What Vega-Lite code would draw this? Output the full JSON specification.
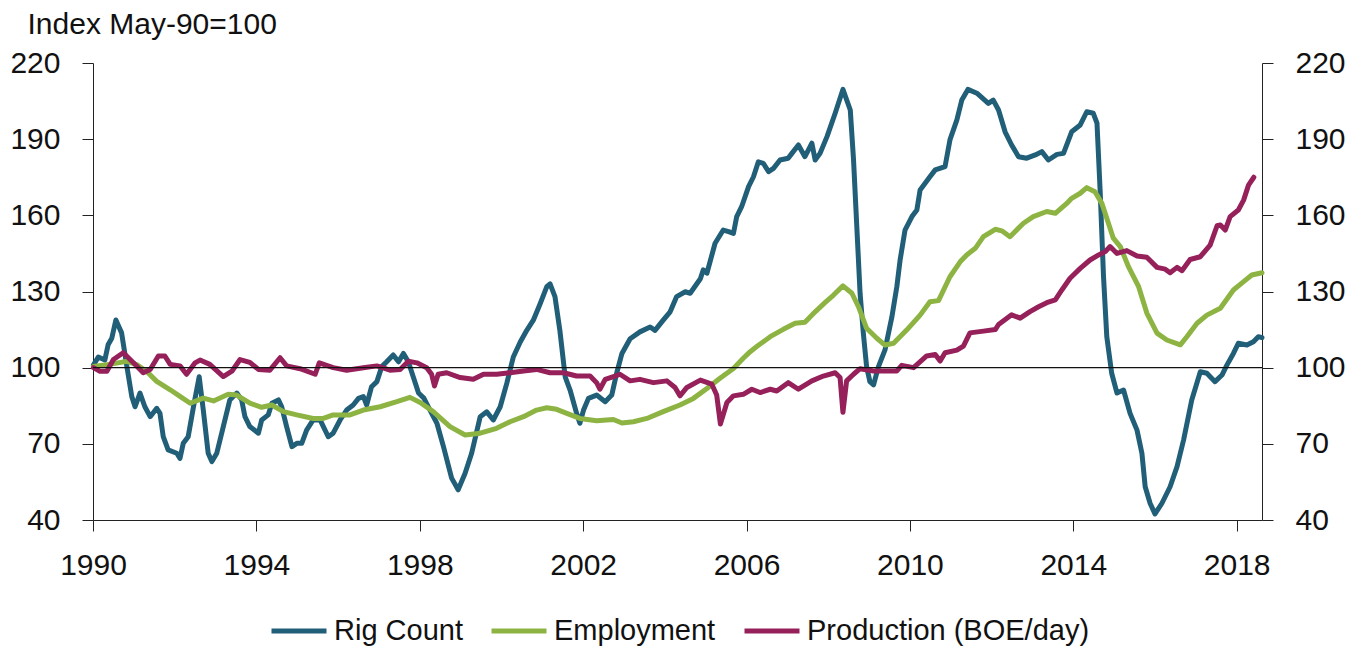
{
  "$schema": "https://vega.github.io/schema/vega-lite/v6.json",
  "autosize": {"type": "none"},
  "width": 1169,
  "height": 457,
  "padding": {"left": 93, "top": 63, "right": 95, "bottom": 129},
  "background": "white",
  "config": {
    "view": {"stroke": null},
    "font": "Liberation Sans",
    "axis": {
      "labelFont": "Liberation Sans",
      "labelFontSize": 30,
      "labelColor": "#111",
      "domainColor": "#222",
      "tickColor": "#222",
      "tickSize": 11,
      "grid": false
    },
    "legend": {
      "labelFont": "Liberation Sans",
      "labelFontSize": 29,
      "labelColor": "#111",
      "labelLimit": 0
    }
  },
  "datasets": {
    "rig": [
      {"year":1990.01,"value":101},{"year":1990.13,"value":104.2},{"year":1990.29,"value":103},{"year":1990.37,"value":109},{"year":1990.46,"value":111.6},{"year":1990.56,"value":118.8},{"year":1990.70,"value":113.7},{"year":1990.83,"value":100.4},{"year":1990.95,"value":88.6},{"year":1991.03,"value":84.6},{"year":1991.15,"value":90},{"year":1991.27,"value":84.6},{"year":1991.40,"value":80.7},{"year":1991.56,"value":84},{"year":1991.64,"value":82},{"year":1991.72,"value":72.8},{"year":1991.84,"value":67.6},{"year":1992.05,"value":66.3},{"year":1992.13,"value":64.3},{"year":1992.21,"value":70.2},{"year":1992.33,"value":72.8},{"year":1992.46,"value":84.6},{"year":1992.60,"value":96.4},{"year":1992.70,"value":83.3},{"year":1992.82,"value":66.3},{"year":1992.91,"value":63},{"year":1993.03,"value":66.3},{"year":1993.19,"value":76.8},{"year":1993.35,"value":87.3},{"year":1993.52,"value":90},{"year":1993.64,"value":87.3},{"year":1993.72,"value":80.7},{"year":1993.84,"value":76.8},{"year":1994.05,"value":74.2},{"year":1994.13,"value":79.4},{"year":1994.29,"value":81.4},{"year":1994.38,"value":86},{"year":1994.54,"value":87.3},{"year":1994.62,"value":84.6},{"year":1994.74,"value":76.8},{"year":1994.87,"value":68.9},{"year":1994.99,"value":70.2},{"year":1995.11,"value":70.2},{"year":1995.23,"value":75.4},{"year":1995.39,"value":79.4},{"year":1995.56,"value":79.4},{"year":1995.64,"value":76.8},{"year":1995.76,"value":72.8},{"year":1995.88,"value":74.2},{"year":1996.05,"value":79.4},{"year":1996.21,"value":83.3},{"year":1996.37,"value":85.3},{"year":1996.50,"value":87.9},{"year":1996.62,"value":88.6},{"year":1996.70,"value":85.3},{"year":1996.82,"value":92.5},{"year":1996.95,"value":94.5},{"year":1997.07,"value":100.4},{"year":1997.19,"value":102.3},{"year":1997.35,"value":105},{"year":1997.48,"value":102.3},{"year":1997.60,"value":105.6},{"year":1997.72,"value":102.3},{"year":1997.84,"value":96.4},{"year":1997.97,"value":90},{"year":1998.10,"value":88},{"year":1998.25,"value":83.3},{"year":1998.42,"value":78.1},{"year":1998.58,"value":68.9},{"year":1998.78,"value":56.5},{"year":1998.94,"value":51.9},{"year":1999.11,"value":58.4},{"year":1999.27,"value":66.3},{"year":1999.48,"value":80.7},{"year":1999.64,"value":82.6},{"year":1999.80,"value":79.4},{"year":1999.97,"value":84.6},{"year":2000.13,"value":93.8},{"year":2000.29,"value":104.2},{"year":2000.46,"value":110.1},{"year":2000.62,"value":114.7},{"year":2000.78,"value":118.7},{"year":2000.95,"value":125.3},{"year":2001.11,"value":131.9},{"year":2001.19,"value":133},{"year":2001.31,"value":128},{"year":2001.43,"value":114.7},{"year":2001.56,"value":96.4},{"year":2001.68,"value":91.2},{"year":2001.84,"value":82},{"year":2001.92,"value":78.1},{"year":2002.01,"value":83.3},{"year":2002.13,"value":87.9},{"year":2002.33,"value":89.2},{"year":2002.54,"value":86.6},{"year":2002.70,"value":89.2},{"year":2002.82,"value":97.8},{"year":2002.95,"value":105.6},{"year":2003.15,"value":111.4},{"year":2003.39,"value":114.1},{"year":2003.64,"value":116},{"year":2003.76,"value":114.7},{"year":2003.96,"value":118.7},{"year":2004.13,"value":122},{"year":2004.29,"value":128},{"year":2004.50,"value":129.9},{"year":2004.62,"value":129.3},{"year":2004.87,"value":135},{"year":2004.94,"value":138.5},{"year":2005.03,"value":137.2},{"year":2005.23,"value":149},{"year":2005.43,"value":154.2},{"year":2005.56,"value":153.6},{"year":2005.68,"value":152.9},{"year":2005.76,"value":159.5},{"year":2005.88,"value":163.4},{"year":2006.05,"value":171.3},{"year":2006.17,"value":175.2},{"year":2006.29,"value":181.1},{"year":2006.41,"value":180.5},{"year":2006.54,"value":177.2},{"year":2006.66,"value":178.5},{"year":2006.82,"value":181.8},{"year":2007.02,"value":182.5},{"year":2007.11,"value":184.4},{"year":2007.27,"value":187.7},{"year":2007.43,"value":183.1},{"year":2007.60,"value":188.4},{"year":2007.68,"value":181.8},{"year":2007.80,"value":184.4},{"year":2007.97,"value":191},{"year":2008.17,"value":200.2},{"year":2008.36,"value":209.6},{"year":2008.54,"value":201.5},{"year":2008.62,"value":181.8},{"year":2008.70,"value":155.5},{"year":2008.78,"value":129.3},{"year":2008.86,"value":113.5},{"year":2008.94,"value":100.4},{"year":2009.02,"value":94.5},{"year":2009.11,"value":93.2},{"year":2009.23,"value":100.4},{"year":2009.39,"value":107},{"year":2009.56,"value":120.1},{"year":2009.68,"value":131.9},{"year":2009.76,"value":142.4},{"year":2009.88,"value":154.2},{"year":2010.05,"value":159.5},{"year":2010.17,"value":162.1},{"year":2010.25,"value":170},{"year":2010.49,"value":175.2},{"year":2010.62,"value":177.9},{"year":2010.86,"value":179.2},{"year":2010.98,"value":189.7},{"year":2011.15,"value":197.6},{"year":2011.27,"value":205.4},{"year":2011.42,"value":209.6},{"year":2011.64,"value":208.1},{"year":2011.92,"value":204.1},{"year":2012.04,"value":205.4},{"year":2012.17,"value":201.5},{"year":2012.33,"value":192.9},{"year":2012.49,"value":187.7},{"year":2012.66,"value":183.1},{"year":2012.86,"value":182.5},{"year":2013.07,"value":183.8},{"year":2013.23,"value":185.1},{"year":2013.39,"value":181.8},{"year":2013.60,"value":184},{"year":2013.76,"value":184.4},{"year":2013.96,"value":192.9},{"year":2014.17,"value":195.6},{"year":2014.33,"value":200.8},{"year":2014.49,"value":200.2},{"year":2014.58,"value":196.3},{"year":2014.66,"value":168.7},{"year":2014.74,"value":135.8},{"year":2014.82,"value":112.2},{"year":2014.94,"value":97.8},{"year":2015.07,"value":90},{"year":2015.23,"value":91.2},{"year":2015.39,"value":82},{"year":2015.56,"value":75.4},{"year":2015.68,"value":66.3},{"year":2015.76,"value":53.1},{"year":2015.88,"value":46.6},{"year":2016.00,"value":42.4},{"year":2016.17,"value":46.6},{"year":2016.37,"value":53.1},{"year":2016.54,"value":61},{"year":2016.70,"value":71.5},{"year":2016.90,"value":87.3},{"year":2017.11,"value":98.4},{"year":2017.27,"value":97.8},{"year":2017.47,"value":94.5},{"year":2017.64,"value":97.1},{"year":2017.76,"value":101},{"year":2017.92,"value":105.6},{"year":2018.04,"value":109.6},{"year":2018.25,"value":108.9},{"year":2018.41,"value":110.2},{"year":2018.53,"value":112.2},{"year":2018.62,"value":111.8}
    ],
    "emp": [
      {"year":1990.01,"value":100.5},{"year":1990.34,"value":101.2},{"year":1990.58,"value":101.8},{"year":1990.83,"value":102.5},{"year":1991.07,"value":101.2},{"year":1991.31,"value":98.6},{"year":1991.56,"value":94.6},{"year":1991.89,"value":91.3},{"year":1992.13,"value":88.7},{"year":1992.38,"value":86},{"year":1992.70,"value":88},{"year":1992.95,"value":86.9},{"year":1993.31,"value":89.5},{"year":1993.52,"value":89.2},{"year":1993.84,"value":86},{"year":1994.13,"value":84.4},{"year":1994.38,"value":85.3},{"year":1994.66,"value":82.7},{"year":1994.99,"value":81.4},{"year":1995.39,"value":80},{"year":1995.64,"value":80},{"year":1995.88,"value":81.4},{"year":1996.29,"value":81.4},{"year":1996.62,"value":83.3},{"year":1997.03,"value":84.6},{"year":1997.44,"value":86.6},{"year":1997.76,"value":88.3},{"year":1998.01,"value":86.3},{"year":1998.33,"value":82.7},{"year":1998.74,"value":76.8},{"year":1999.11,"value":73.5},{"year":1999.48,"value":74.2},{"year":1999.88,"value":76.1},{"year":2000.21,"value":78.7},{"year":2000.54,"value":80.7},{"year":2000.86,"value":83.3},{"year":2001.11,"value":84.2},{"year":2001.35,"value":83.6},{"year":2001.60,"value":82},{"year":2001.92,"value":80},{"year":2002.33,"value":79.1},{"year":2002.74,"value":79.6},{"year":2002.95,"value":78.2},{"year":2003.23,"value":78.7},{"year":2003.56,"value":80},{"year":2003.96,"value":82.7},{"year":2004.37,"value":85.3},{"year":2004.70,"value":87.9},{"year":2005.03,"value":91.8},{"year":2005.35,"value":95.8},{"year":2005.68,"value":99.7},{"year":2005.92,"value":103.7},{"year":2006.09,"value":106.3},{"year":2006.25,"value":108.3},{"year":2006.58,"value":112.2},{"year":2006.90,"value":115.1},{"year":2007.19,"value":117.5},{"year":2007.43,"value":117.9},{"year":2007.68,"value":122},{"year":2007.92,"value":125.6},{"year":2008.13,"value":128.6},{"year":2008.36,"value":132.2},{"year":2008.58,"value":129.3},{"year":2008.74,"value":124},{"year":2008.94,"value":115.5},{"year":2009.19,"value":111.6},{"year":2009.39,"value":108.9},{"year":2009.60,"value":109.6},{"year":2009.92,"value":114.8},{"year":2010.25,"value":120.7},{"year":2010.49,"value":126},{"year":2010.70,"value":126.4},{"year":2010.98,"value":135.8},{"year":2011.23,"value":141.7},{"year":2011.39,"value":144.4},{"year":2011.60,"value":147},{"year":2011.80,"value":151.6},{"year":2012.09,"value":154.5},{"year":2012.25,"value":153.9},{"year":2012.45,"value":151.6},{"year":2012.78,"value":156.9},{"year":2013.02,"value":159.5},{"year":2013.35,"value":161.5},{"year":2013.56,"value":160.8},{"year":2013.84,"value":164.7},{"year":2013.96,"value":166.7},{"year":2014.17,"value":168.7},{"year":2014.33,"value":170.9},{"year":2014.53,"value":169.3},{"year":2014.70,"value":164.7},{"year":2014.86,"value":156.9},{"year":2014.98,"value":151},{"year":2015.15,"value":147.7},{"year":2015.35,"value":139.8},{"year":2015.60,"value":131.9},{"year":2015.80,"value":121.5},{"year":2016.05,"value":113.6},{"year":2016.29,"value":110.9},{"year":2016.62,"value":109},{"year":2016.78,"value":112.2},{"year":2017.03,"value":117.5},{"year":2017.27,"value":120.7},{"year":2017.60,"value":123.4},{"year":2017.92,"value":130.6},{"year":2018.17,"value":133.9},{"year":2018.37,"value":136.5},{"year":2018.62,"value":137.4}
    ],
    "prod": [
      {"year":1990.01,"value":100},{"year":1990.17,"value":98.6},{"year":1990.34,"value":98.6},{"year":1990.50,"value":103.2},{"year":1990.74,"value":105.9},{"year":1990.99,"value":101.9},{"year":1991.23,"value":98},{"year":1991.40,"value":99.3},{"year":1991.60,"value":104.6},{"year":1991.76,"value":104.6},{"year":1991.89,"value":101.3},{"year":1992.13,"value":100.7},{"year":1992.29,"value":97.4},{"year":1992.50,"value":101.9},{"year":1992.62,"value":103},{"year":1992.86,"value":101.3},{"year":1993.19,"value":96.5},{"year":1993.40,"value":98.6},{"year":1993.60,"value":103.2},{"year":1993.84,"value":102.1},{"year":1994.05,"value":99.3},{"year":1994.33,"value":99},{"year":1994.58,"value":103.9},{"year":1994.74,"value":100.7},{"year":1995.07,"value":99.6},{"year":1995.44,"value":97.4},{"year":1995.54,"value":101.9},{"year":1995.88,"value":100},{"year":1996.21,"value":99},{"year":1996.62,"value":100},{"year":1996.95,"value":100.7},{"year":1997.27,"value":99},{"year":1997.52,"value":99.3},{"year":1997.72,"value":102.5},{"year":1997.93,"value":101.9},{"year":1998.17,"value":100},{"year":1998.29,"value":97.4},{"year":1998.36,"value":92.8},{"year":1998.45,"value":97.4},{"year":1998.66,"value":98},{"year":1998.99,"value":96.1},{"year":1999.31,"value":95.4},{"year":1999.56,"value":97.4},{"year":1999.88,"value":97.4},{"year":2000.21,"value":98},{"year":2000.54,"value":98.7},{"year":2000.86,"value":99.3},{"year":2001.19,"value":98},{"year":2001.52,"value":98},{"year":2001.84,"value":96.7},{"year":2002.17,"value":96.7},{"year":2002.33,"value":94.1},{"year":2002.41,"value":91.5},{"year":2002.54,"value":95.4},{"year":2002.78,"value":96.7},{"year":2002.90,"value":97.4},{"year":2003.15,"value":94.8},{"year":2003.39,"value":95.4},{"year":2003.72,"value":94.1},{"year":2004.05,"value":94.8},{"year":2004.25,"value":92.2},{"year":2004.37,"value":88.9},{"year":2004.54,"value":92.2},{"year":2004.87,"value":95.1},{"year":2005.15,"value":93.5},{"year":2005.27,"value":89.2},{"year":2005.36,"value":77.8},{"year":2005.52,"value":86.3},{"year":2005.68,"value":88.9},{"year":2005.92,"value":89.5},{"year":2006.13,"value":91.5},{"year":2006.33,"value":90.2},{"year":2006.58,"value":91.5},{"year":2006.74,"value":90.8},{"year":2007.02,"value":94.1},{"year":2007.27,"value":91.5},{"year":2007.60,"value":94.8},{"year":2007.88,"value":96.7},{"year":2008.17,"value":98},{"year":2008.29,"value":96.1},{"year":2008.36,"value":82.4},{"year":2008.45,"value":94.8},{"year":2008.62,"value":97.4},{"year":2008.78,"value":99.6},{"year":2009.11,"value":98.7},{"year":2009.43,"value":98.7},{"year":2009.68,"value":98.7},{"year":2009.80,"value":100.9},{"year":2010.09,"value":100},{"year":2010.41,"value":104.6},{"year":2010.62,"value":105.2},{"year":2010.74,"value":102.6},{"year":2010.86,"value":105.9},{"year":2011.15,"value":106.9},{"year":2011.31,"value":108.5},{"year":2011.47,"value":113.7},{"year":2011.80,"value":114.4},{"year":2012.09,"value":115},{"year":2012.17,"value":117},{"year":2012.49,"value":120.8},{"year":2012.70,"value":119.5},{"year":2012.94,"value":122.1},{"year":2013.15,"value":124},{"year":2013.35,"value":125.6},{"year":2013.56,"value":126.7},{"year":2013.72,"value":130.6},{"year":2013.92,"value":135.2},{"year":2014.17,"value":139.1},{"year":2014.41,"value":142.4},{"year":2014.62,"value":144.4},{"year":2014.78,"value":145.7},{"year":2014.90,"value":147.7},{"year":2015.07,"value":145},{"year":2015.31,"value":146.1},{"year":2015.56,"value":144},{"year":2015.80,"value":143.5},{"year":2016.05,"value":139.5},{"year":2016.25,"value":138.8},{"year":2016.37,"value":137.4},{"year":2016.54,"value":139.5},{"year":2016.66,"value":138.2},{"year":2016.86,"value":142.6},{"year":2017.11,"value":143.7},{"year":2017.35,"value":148.3},{"year":2017.52,"value":155.9},{"year":2017.60,"value":156.2},{"year":2017.72,"value":154.2},{"year":2017.84,"value":159.5},{"year":2018.04,"value":162.1},{"year":2018.17,"value":166},{"year":2018.29,"value":171.9},{"year":2018.42,"value":175}
    ],
    "baseline": [{"level": 100}]
  },
  "layer": [
    {
      "layer": [
        {
          "data": {"name": "rig"},
          "mark": {"type": "line", "strokeWidth": 5, "strokeJoin": "round", "strokeCap": "round"},
          "encoding": {
            "x": {"field": "year", "type": "quantitative", "scale": {"domain": [1990, 2018.62], "nice": false, "zero": false},
                  "axis": {"values": [1990, 1994, 1998, 2002, 2006, 2010, 2014, 2018], "format": "d", "title": null, "labelPadding": 19, "labelFlush": false}},
            "y": {"field": "value", "type": "quantitative", "scale": {"domain": [40, 220], "nice": false, "zero": false},
                  "axis": {"values": [40, 70, 100, 130, 160, 190, 220], "labelPadding": 22, "title": "Index May-90=100", "titleAngle": 0, "titleAlign": "left", "titleBaseline": "alphabetic", "titleX": -66, "titleY": -30, "titleFont": "Liberation Sans", "titleFontSize": 30, "titleFontWeight": "normal", "titleColor": "#111"}},
            "color": {"datum": "Rig Count", "type": "nominal",
                      "scale": {"domain": ["Rig Count", "Employment", "Production (BOE/day)"], "range": ["#215E78", "#8DB443", "#95205A"]},
                      "legend": {"title": null, "orient": "none", "direction": "horizontal", "legendX": 176, "legendY": 538, "symbolType": "stroke", "symbolSize": 3025, "symbolStrokeWidth": 5, "labelOffset": 5, "columnPadding": 18, "padding": 0}}
          }
        },
        {
          "data": {"name": "emp"},
          "mark": {"type": "line", "strokeWidth": 5, "strokeJoin": "round", "strokeCap": "round"},
          "encoding": {
            "x": {"field": "year", "type": "quantitative"},
            "y": {"field": "value", "type": "quantitative"},
            "color": {"datum": "Employment", "type": "nominal"}
          }
        },
        {
          "data": {"name": "prod"},
          "mark": {"type": "line", "strokeWidth": 5, "strokeJoin": "round", "strokeCap": "round"},
          "encoding": {
            "x": {"field": "year", "type": "quantitative"},
            "y": {"field": "value", "type": "quantitative"},
            "color": {"datum": "Production (BOE/day)", "type": "nominal"}
          }
        }
      ]
    },
    {
      "data": {"name": "baseline"},
      "mark": {"type": "rule", "color": "#111", "strokeWidth": 1.2},
      "encoding": {
        "y": {"field": "level", "type": "quantitative", "scale": {"domain": [40, 220], "nice": false, "zero": false},
              "axis": {"orient": "right", "values": [40, 70, 100, 130, 160, 190, 220], "labelPadding": 22, "title": null}}
      }
    }
  ],
  "resolve": {"scale": {"y": "independent"}}
}
